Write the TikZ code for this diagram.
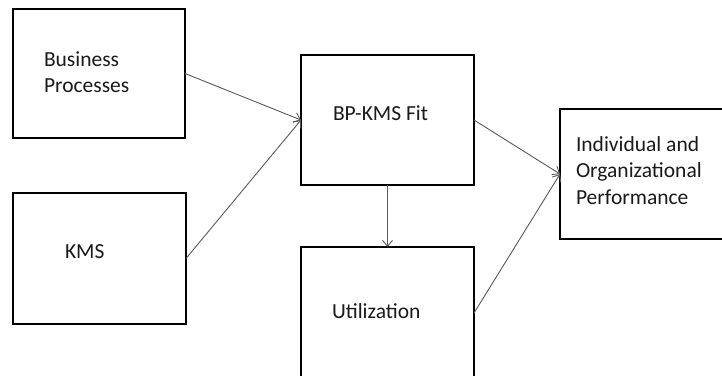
\documentclass[tikz,border=0pt]{standalone}
\usepackage{fontspec}
\setmainfont{Carlito}
\usetikzlibrary{arrows.meta}
\definecolor{linegray}{HTML}{595959}
\definecolor{txt}{HTML}{1A1A1A}
\begin{document}
\begin{tikzpicture}[x=1pt,y=-1pt,
  box/.style={draw=black, line width=2.6pt, fill=white, rectangle, inner sep=0pt, outer sep=0pt},
  lbl/.style={anchor=base west, inner sep=0pt, outer sep=0pt, text=txt,
    font=\fontsize{21.5}{26.5}\selectfont},
  conn/.style={draw=linegray, line width=0.9pt, -{Straight Barb[length=6pt,width=10pt]}}]
\useasboundingbox (0,0) rectangle (722,375);
% boxes
\node[box, minimum width=172pt, minimum height=129pt] (bp) at (99,73.5) {};
\node[box, minimum width=173pt, minimum height=131pt] (kms) at (99.5,258.5) {};
\node[box, minimum width=173pt, minimum height=130pt] (fit) at (387.5,120) {};
\node[box, minimum width=173pt, minimum height=132pt] (util) at (387.5,313) {};
\node[box, minimum width=168pt, minimum height=130pt] (perf) at (644,174) {};
% labels
\node[lbl] (bpt) at (44,66) {\begin{tabular}[t]{@{}l@{}}Business\\Processes\end{tabular}};
\node[lbl] (kmst) at (65,258) {KMS};
\node[lbl] (fitt) at (333,120) {BP-KMS Fit};
\node[lbl] (utilt) at (332,318) {Utilization};
\node[lbl] (perft) at (576,151) {\begin{tabular}[t]{@{}l@{}}Individual and\\Organizational\\Performance\end{tabular}};
% connectors
\draw[conn] (bp.east) -- (fit.west);
\draw[conn] (kms.east) -- (fit.west);
\draw[conn] (fit.east) -- (perf.west);
\draw[conn] (util.east) -- (perf.west);
\draw[conn] (fit.south) -- (util.north);
\end{tikzpicture}
\end{document}
